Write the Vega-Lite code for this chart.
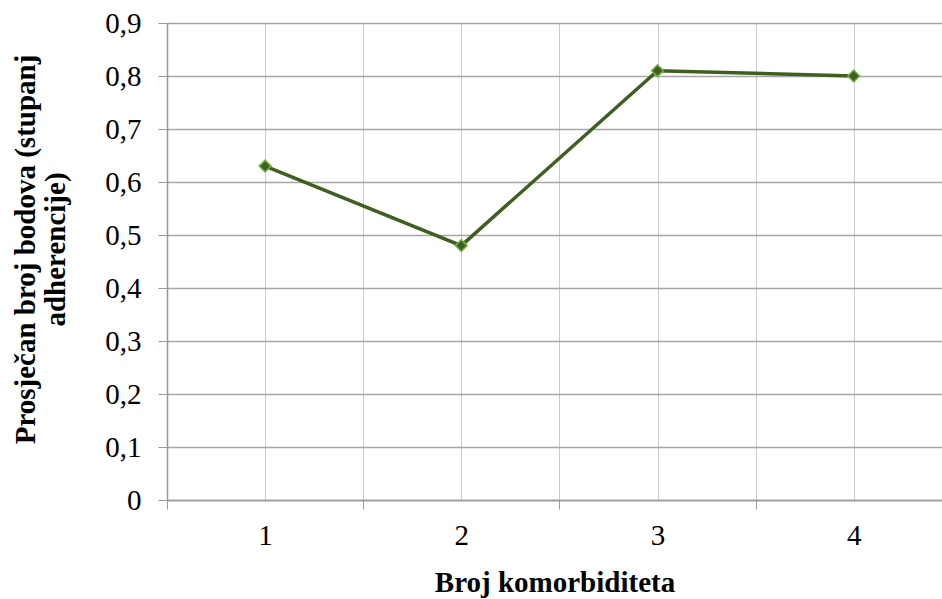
{
  "$schema": "https://vega.github.io/schema/vega-lite/v6.json",
  "autosize": {"type": "none"},
  "padding": {"left": 167, "top": 23, "right": 0, "bottom": 99},
  "width": 775,
  "height": 477,
  "background": "white",
  "config": {
    "view": {"stroke": null},
    "font": "Liberation Serif"
  },
  "data": {
    "values": [
      {"komorbiditeti": 1, "prosjek": 0.63},
      {"komorbiditeti": 2, "prosjek": 0.48},
      {"komorbiditeti": 3, "prosjek": 0.81},
      {"komorbiditeti": 4, "prosjek": 0.80}
    ]
  },
  "mark": {
    "type": "line",
    "color": "#3f5f20",
    "strokeWidth": 3.5,
    "point": {"shape": "diamond", "size": 140, "fill": "#3f5f20", "stroke": "#72b043", "strokeWidth": 1.5, "filled": true}
  },
  "encoding": {
    "x": {
      "field": "komorbiditeti",
      "type": "quantitative",
      "scale": {"domain": [0.5, 4.45], "nice": false, "zero": false},
      "axis": {
        "values": [0.5, 1, 1.5, 2, 2.5, 3, 3.5, 4, 4.5],
        "labelExpr": "datum.value % 1 === 0 ? datum.value : ''",
        "labelFont": "Liberation Serif",
        "labelFontSize": 29,
        "labelColor": "#000000",
        "labelPadding": 12,
        "tickSize": 9,
        "tickColor": "#999999",
        "tickOpacity": {"condition": {"test": "datum.value % 1 !== 0", "value": 1}, "value": 0},
        "grid": true,
        "gridColor": "#cccccc",
        "gridWidth": 1,
        "domain": true,
        "domainColor": "#999999",
        "domainWidth": 1.5,
        "title": "Broj komorbiditeta",
        "titleFont": "Liberation Serif",
        "titleFontSize": 29,
        "titleFontWeight": "bold",
        "titleColor": "#000000",
        "titlePadding": 18
      }
    },
    "y": {
      "field": "prosjek",
      "type": "quantitative",
      "scale": {"domain": [0, 0.9], "nice": false},
      "axis": {
        "values": [0, 0.1, 0.2, 0.3, 0.4, 0.5, 0.6, 0.7, 0.8, 0.9],
        "labelExpr": "replace(format(datum.value, '.1~f'), '.', ',')",
        "labelFont": "Liberation Serif",
        "labelFontSize": 29,
        "labelColor": "#000000",
        "labelPadding": 17,
        "tickSize": 9,
        "tickColor": "#999999",
        "grid": true,
        "gridColor": "#a6a6a6",
        "gridWidth": 1.5,
        "domain": true,
        "domainColor": "#999999",
        "domainWidth": 1.5,
        "title": ["Prosječan broj bodova (stupanj", "adherencije)"],
        "titleFont": "Liberation Serif",
        "titleFontSize": 29,
        "titleFontWeight": "bold",
        "titleColor": "#000000",
        "titleAngle": -90,
        "titleAlign": "center",
        "titleBaseline": "middle",
        "titleLineHeight": 30,
        "titleX": -142,
        "titleY": 226
      }
    }
  }
}
